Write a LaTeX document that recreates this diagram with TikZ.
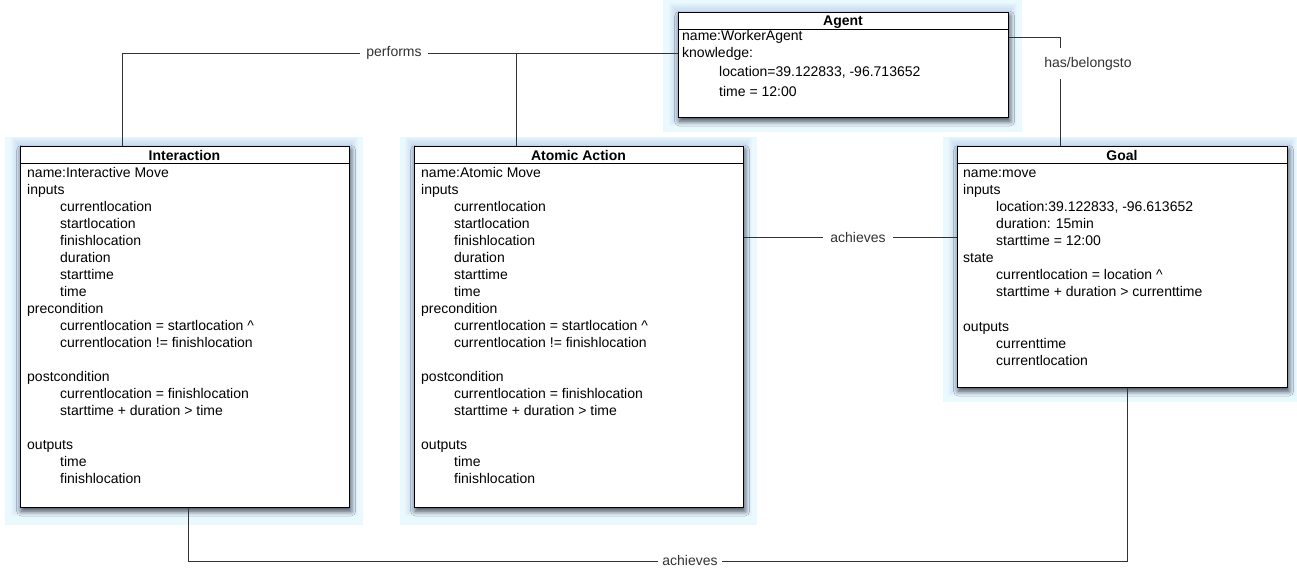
\documentclass[tikz,border=0pt]{standalone}
\usepackage{fontspec}
\setmainfont{Liberation Sans}
\usetikzlibrary{shadows.blur}

\definecolor{glowcyan}{HTML}{EAF9FE}
\definecolor{halo}{HTML}{6F8AD8}
\definecolor{linkgray}{HTML}{333333}

% indentation of the nested entries inside a class box
\newcommand\ind{\hspace*{33pt}}
\newcommand\indA{\hspace*{37pt}}

% light selection glow and soft blue rim behind a box: x1,y1,x2,y2 of the glow, then of the box
\newcommand\glowpanel[8]{%
  \fill[glowcyan] (#1,#2) rectangle (#3,#4);
  \foreach \d in {1,...,9}{\fill[halo,opacity=0.03] (#5-\d,#6-\d) rectangle (#7+\d,#8+\d);}%
}

\tikzset{
  umlbox/.style={draw=black, line width=1.3pt, fill=white, inner sep=0pt, anchor=north west,
    blur shadow={shadow xshift=1pt, shadow yshift=-3.5pt, shadow blur radius=5pt, shadow opacity=65}},
  umlrule/.style={draw=black, line width=1pt},
  umltitle/.style={font=\bfseries\fontsize{14}{17}\selectfont, anchor=base, inner sep=0pt},
  % multi-line compartments are placed by the baseline of their last line
  umlbody/.style={font=\fontsize{14}{17}\selectfont, align=left, anchor=base west, inner sep=0pt},
  link/.style={draw=linkgray, line width=1pt},
  linklabel/.style={font=\fontsize{14}{17}\selectfont, fill=white, text=linkgray, inner xsep=6pt, inner ysep=4pt}
}

\begin{document}
\begin{tikzpicture}[x=1pt, y=-1pt]
\useasboundingbox[fill=white] (0,0) rectangle (1297,571);

% glows behind the four boxes
\glowpanel{663}{0}{1022}{132}{678}{12}{1008}{117}
\glowpanel{5}{137}{363}{525}{20}{146}{349}{507}
\glowpanel{400}{137}{757}{525}{414}{146}{743}{507}
\glowpanel{943}{137}{1297}{402}{957}{146}{1287}{387}

% class boxes
\node[umlbox, minimum width=330pt, minimum height=105pt] (agent) at (678,12) {};
\node[umlbox, minimum width=329pt, minimum height=361pt] (inter) at (20,146) {};
\node[umlbox, minimum width=329pt, minimum height=361pt] (atomic) at (414,146) {};
\node[umlbox, minimum width=330pt, minimum height=241pt] (goal) at (957,146) {};

% header separators
\draw[umlrule] ([yshift=-17pt]agent.north west) -- ([yshift=-17pt]agent.north east);
\draw[umlrule] ([yshift=-17pt]inter.north west) -- ([yshift=-17pt]inter.north east);
\draw[umlrule] ([yshift=-17pt]atomic.north west) -- ([yshift=-17pt]atomic.north east);
\draw[umlrule] ([yshift=-17pt]goal.north west) -- ([yshift=-17pt]goal.north east);

% titles
\node[umltitle] (agent-title) at (843,25) {Agent};
\node[umltitle] (inter-title) at (184.5,160) {Interaction};
\node[umltitle] (atomic-title) at (578.5,160) {Atomic Action};
\node[umltitle] (goal-title) at (1122,160) {Goal};

% attribute compartments
\node[umlbody] (agent-body) at (682,96) {name:WorkerAgent\\
knowledge:\\[2pt]
\indA location=39.122833, -96.713652\\[3pt]
\indA time = 12:00};

\node[umlbody] (inter-body) at (27,483) {name:Interactive Move\\
inputs\\
\ind currentlocation\\
\ind startlocation\\
\ind finishlocation\\
\ind duration\\
\ind starttime\\
\ind time\\
precondition\\
\ind currentlocation = startlocation \textasciicircum\\
\ind currentlocation != finishlocation\\[17pt]
postcondition\\
\ind currentlocation = finishlocation\\
\ind starttime + duration > time\\[17pt]
outputs\\
\ind time\\
\ind finishlocation};

\node[umlbody] (atomic-body) at (421,483) {name:Atomic Move\\
inputs\\
\ind currentlocation\\
\ind startlocation\\
\ind finishlocation\\
\ind duration\\
\ind starttime\\
\ind time\\
precondition\\
\ind currentlocation = startlocation \textasciicircum\\
\ind currentlocation != finishlocation\\[17pt]
postcondition\\
\ind currentlocation = finishlocation\\
\ind starttime + duration > time\\[17pt]
outputs\\
\ind time\\
\ind finishlocation};

\node[umlbody] (goal-body) at (963,365) {name:move\\
inputs\\
\ind location:39.122833, -96.613652\\
\ind duration: 15min\\
\ind starttime = 12:00\\
state\\
\ind currentlocation = location \textasciicircum\\
\ind starttime + duration > currenttime\\[18pt]
outputs\\
\ind currenttime\\
\ind currentlocation};

% associations
\coordinate (perf-join) at (516,53);
\draw[link] ([xshift=102pt]inter.north west) |- ([yshift=-41pt]agent.north west);
\draw[link] ([xshift=102pt]atomic.north west) -- (perf-join);
\draw[link] ([yshift=-25pt]agent.north east) -| ([xshift=103pt]goal.north west);
\draw[link] ([yshift=-91pt]atomic.north east) -- ([yshift=-91pt]goal.north west);
\draw[link] ([xshift=168pt]inter.south west) -- ++(0,53) -| ([xshift=170pt]goal.south west);

% association labels
\node[linklabel] (lbl-performs) at (394,53) {performs};
\node[linklabel, inner ysep=9pt] (lbl-has) at (1088,63.5) {has/belongsto};
\node[linklabel, inner xsep=7.5pt] (lbl-achieves-mid) at (858,237) {achieves};
\node[linklabel, inner xsep=4pt] (lbl-achieves-low) at (690,560) {achieves};
\end{tikzpicture}
\end{document}
